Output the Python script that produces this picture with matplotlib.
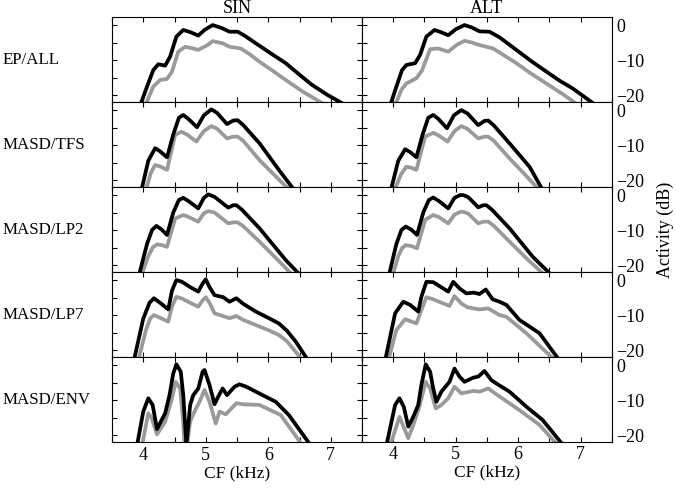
import matplotlib
matplotlib.use("Agg")
import matplotlib.pyplot as plt
from matplotlib.ticker import MultipleLocator

plt.rcParams['font.family'] = ['Liberation Serif', 'DejaVu Serif']
plt.rcParams['font.size'] = 13

columns = ["SIN", "ALT"]
rows = ["EP/ALL", "MASD/TFS", "MASD/LP2", "MASD/LP7", "MASD/ENV"]

# black = upper curve, gray = lower curve; x in kHz, y in dB
# EP/ALL
sin_all_bx = [3.95, 4.06, 4.16, 4.24, 4.35, 4.43, 4.53, 4.64, 4.75, 4.88, 4.98, 5.11, 5.25, 5.38, 5.51, 5.62, 5.80, 6.05, 6.28, 6.50, 6.70, 6.95, 7.20]
sin_all_by = [-23, -17.6, -12.9, -11.2, -11.6, -9.0, -3.3, -1.4, -2.0, -3.0, -1.4, 0.0, -0.8, -1.9, -1.9, -3.0, -5.2, -8.2, -10.9, -14.2, -17.1, -20.0, -22.5]
sin_all_gx = [4.03, 4.16, 4.27, 4.38, 4.46, 4.56, 4.67, 4.80, 4.88, 5.03, 5.11, 5.27, 5.38, 5.56, 5.70, 5.86, 6.05, 6.28, 6.55, 6.88]
sin_all_gy = [-23, -17.6, -15.7, -15.4, -13.3, -7.6, -6.2, -6.7, -7.1, -5.7, -4.6, -5.2, -6.2, -6.7, -8.3, -10.5, -12.8, -15.7, -19.0, -22.5]
alt_all_bx = [3.95, 4.05, 4.14, 4.21, 4.35, 4.43, 4.53, 4.66, 4.76, 4.88, 5.00, 5.14, 5.26, 5.38, 5.54, 5.70, 5.97, 6.20, 6.45, 6.67, 6.87, 7.21]
alt_all_by = [-23, -17.6, -12.9, -11.4, -10.9, -8.5, -3.3, -1.4, -2.0, -2.9, -1.2, 0.0, -0.7, -1.8, -1.9, -3.5, -7.1, -10.2, -13.3, -16.0, -18.1, -22.5]
alt_all_gx = [4.03, 4.13, 4.21, 4.37, 4.46, 4.59, 4.72, 4.88, 5.02, 5.14, 5.26, 5.38, 5.60, 5.75, 5.97, 6.20, 6.45, 6.70, 6.93]
alt_all_gy = [-23, -18.5, -16.7, -15.2, -13.0, -6.9, -6.7, -7.6, -5.6, -4.5, -5.0, -5.7, -6.7, -8.4, -10.9, -13.8, -16.7, -19.6, -22.5]

# MASD/TFS
sin_tfs_bx = [3.97, 4.08, 4.19, 4.27, 4.38, 4.48, 4.57, 4.64, 4.72, 4.86, 4.97, 5.09, 5.18, 5.34, 5.44, 5.51, 5.60, 5.86, 6.17, 6.40]
sin_tfs_by = [-23, -14.5, -10.9, -11.8, -13.5, -7.0, -2.2, -1.4, -2.5, -4.9, -1.5, 0.2, -0.8, -4.0, -3.0, -2.9, -4.3, -9.5, -17.1, -22.5]
sin_tfs_gx = [4.04, 4.12, 4.19, 4.28, 4.38, 4.51, 4.61, 4.70, 4.85, 4.97, 5.09, 5.18, 5.34, 5.44, 5.51, 5.60, 5.86, 6.10, 6.32]
sin_tfs_gy = [-23, -18.0, -15.7, -16.2, -17.1, -7.1, -6.2, -7.0, -9.0, -6.0, -4.6, -5.3, -8.1, -7.6, -7.6, -8.8, -14.3, -18.6, -22.5]
alt_tfs_bx = [3.96, 4.08, 4.19, 4.27, 4.37, 4.47, 4.56, 4.64, 4.72, 4.86, 4.97, 5.09, 5.19, 5.36, 5.46, 5.52, 5.61, 5.86, 6.18, 6.38]
alt_tfs_by = [-23, -14.5, -11.2, -12.0, -13.5, -7.0, -2.2, -1.4, -2.5, -5.2, -1.5, 0.0, -1.0, -4.3, -3.1, -3.0, -4.4, -9.5, -16.2, -22.5]
alt_tfs_gx = [4.02, 4.12, 4.21, 4.29, 4.37, 4.51, 4.64, 4.73, 4.87, 4.98, 5.09, 5.19, 5.36, 5.46, 5.52, 5.61, 5.86, 6.10, 6.32]
alt_tfs_gy = [-23, -18.5, -16.2, -16.5, -17.1, -7.6, -6.5, -7.3, -9.0, -6.0, -4.6, -5.4, -8.1, -7.6, -7.6, -8.8, -13.8, -18.3, -22.5]

# MASD/LP2
sin_lp2_bx = [3.93, 4.06, 4.14, 4.21, 4.29, 4.38, 4.48, 4.57, 4.64, 4.73, 4.88, 4.97, 5.04, 5.14, 5.36, 5.44, 5.49, 5.58, 5.86, 6.28, 6.49]
sin_lp2_by = [-23, -14.0, -10.0, -8.8, -9.8, -11.4, -5.0, -1.4, -0.8, -1.8, -3.8, -0.8, 0.2, -0.5, -3.6, -2.9, -2.9, -4.2, -9.5, -18.6, -22.5]
sin_lp2_gx = [3.97, 4.08, 4.15, 4.22, 4.30, 4.38, 4.51, 4.64, 4.73, 4.88, 4.97, 5.04, 5.14, 5.36, 5.44, 5.51, 5.60, 5.86, 6.15, 6.37]
sin_lp2_gy = [-23, -17.5, -15.0, -14.1, -14.3, -14.8, -6.7, -5.7, -6.3, -7.6, -5.2, -4.6, -5.0, -8.1, -7.8, -7.8, -8.9, -13.3, -18.5, -22.5]
alt_lp2_bx = [3.93, 4.05, 4.13, 4.20, 4.29, 4.38, 4.48, 4.57, 4.64, 4.73, 4.88, 4.98, 5.07, 5.12, 5.20, 5.36, 5.44, 5.49, 5.58, 5.86, 6.23, 6.51]
alt_lp2_by = [-23, -14.0, -10.0, -9.0, -9.9, -11.4, -5.0, -1.4, -0.7, -1.7, -3.8, -0.8, 0.0, 0.0, -0.6, -3.5, -2.9, -2.9, -4.2, -9.5, -17.6, -22.5]
alt_lp2_gx = [3.99, 4.08, 4.14, 4.20, 4.29, 4.38, 4.51, 4.64, 4.73, 4.88, 4.98, 5.07, 5.12, 5.20, 5.36, 5.44, 5.52, 5.61, 5.86, 6.15, 6.40]
alt_lp2_gy = [-23, -17.5, -15.2, -14.3, -14.6, -15.2, -7.1, -5.7, -6.3, -8.1, -5.6, -4.8, -4.8, -5.3, -8.1, -7.6, -7.6, -8.8, -13.3, -18.4, -22.5]

# MASD/LP7
sin_lp7_bx = [3.85, 4.00, 4.10, 4.17, 4.27, 4.40, 4.46, 4.53, 4.62, 4.75, 4.88, 4.95, 5.00, 5.06, 5.14, 5.28, 5.38, 5.49, 5.60, 5.80, 6.00, 6.17, 6.30, 6.44, 6.62]
sin_lp7_by = [-23, -11.0, -6.5, -5.2, -6.5, -8.4, -3.0, 0.0, -0.5, -2.0, -3.3, -1.0, 0.2, -2.0, -4.3, -4.9, -6.2, -5.2, -6.8, -9.0, -10.8, -12.4, -14.5, -17.6, -22.5]
sin_lp7_gx = [3.92, 4.04, 4.11, 4.17, 4.27, 4.40, 4.46, 4.53, 4.62, 4.75, 4.88, 4.95, 5.00, 5.06, 5.14, 5.38, 5.49, 5.60, 5.86, 6.00, 6.17, 6.30, 6.53]
sin_lp7_gy = [-23, -14.5, -11.0, -10.0, -10.8, -11.9, -7.5, -4.8, -5.3, -6.5, -7.6, -5.8, -4.9, -6.5, -9.5, -10.9, -10.3, -11.4, -13.3, -14.3, -15.7, -17.5, -22.5]
alt_lp7_bx = [3.87, 4.03, 4.16, 4.27, 4.40, 4.45, 4.53, 4.64, 4.88, 4.96, 5.06, 5.17, 5.29, 5.38, 5.48, 5.59, 5.70, 5.81, 6.02, 6.34, 6.64]
alt_lp7_by = [-23, -9.5, -6.2, -7.1, -9.0, -4.8, -0.5, -0.6, -3.3, -0.5, -2.4, -3.8, -3.6, -4.0, -2.7, -5.5, -6.2, -7.1, -11.4, -15.2, -22.5]
alt_lp7_gx = [3.92, 4.05, 4.19, 4.37, 4.45, 4.53, 4.64, 4.90, 4.98, 5.09, 5.19, 5.38, 5.52, 5.70, 5.81, 6.13, 6.56]
alt_lp7_gy = [-23, -14.3, -11.2, -12.4, -8.6, -4.9, -5.5, -7.4, -4.6, -6.7, -7.8, -8.4, -8.1, -10.0, -10.5, -15.2, -22.5]

# MASD/ENV
sin_env_bx = [3.90, 4.00, 4.08, 4.15, 4.22, 4.35, 4.42, 4.48, 4.53, 4.60, 4.64, 4.68, 4.69, 4.75, 4.80, 4.88, 4.95, 4.98, 5.06, 5.14, 5.20, 5.27, 5.34, 5.46, 5.54, 5.65, 5.80, 6.12, 6.33, 6.66]
sin_env_by = [-23, -13.3, -9.5, -11.4, -18.3, -13.8, -8.6, -2.4, 0.2, -1.9, -8.6, -20.0, -23, -11.4, -8.6, -6.7, -1.9, -1.4, -5.7, -11.2, -9.0, -6.7, -8.6, -6.2, -5.5, -6.2, -7.6, -10.5, -14.3, -22.5]
sin_env_gx = [3.98, 4.08, 4.13, 4.22, 4.35, 4.46, 4.52, 4.59, 4.64, 4.66, 4.70, 4.75, 4.83, 4.90, 4.98, 5.06, 5.16, 5.22, 5.32, 5.49, 5.59, 5.86, 6.20, 6.53]
sin_env_gy = [-23, -13.8, -15.0, -19.8, -16.2, -9.5, -4.8, -6.7, -16.2, -23, -23, -16.2, -12.9, -10.5, -7.1, -10.5, -16.7, -13.3, -14.1, -10.9, -11.2, -11.4, -14.3, -22.5]
alt_env_bx = [3.89, 4.03, 4.10, 4.17, 4.24, 4.32, 4.40, 4.45, 4.52, 4.59, 4.64, 4.69, 4.77, 4.90, 4.98, 5.06, 5.14, 5.28, 5.36, 5.46, 5.57, 5.67, 5.86, 6.13, 6.39, 6.70]
alt_env_by = [-23, -11.4, -9.5, -12.0, -17.6, -14.8, -11.4, -5.7, 0.2, -1.9, -6.7, -10.5, -7.6, -4.8, -1.0, -3.3, -4.8, -3.6, -3.3, -1.7, -4.3, -5.5, -7.6, -11.9, -15.7, -22.5]
alt_env_gx = [3.95, 4.10, 4.24, 4.33, 4.41, 4.52, 4.59, 4.68, 4.77, 4.88, 4.98, 5.09, 5.28, 5.38, 5.52, 5.67, 6.02, 6.34, 6.61]
alt_env_gy = [-23, -14.8, -20.9, -16.7, -12.4, -4.8, -6.7, -12.4, -11.4, -9.5, -6.2, -8.1, -7.4, -7.6, -6.7, -8.6, -12.9, -17.1, -22.5]

curves = [
    [(sin_all_bx, sin_all_by, sin_all_gx, sin_all_gy), (alt_all_bx, alt_all_by, alt_all_gx, alt_all_gy)],
    [(sin_tfs_bx, sin_tfs_by, sin_tfs_gx, sin_tfs_gy), (alt_tfs_bx, alt_tfs_by, alt_tfs_gx, alt_tfs_gy)],
    [(sin_lp2_bx, sin_lp2_by, sin_lp2_gx, sin_lp2_gy), (alt_lp2_bx, alt_lp2_by, alt_lp2_gx, alt_lp2_gy)],
    [(sin_lp7_bx, sin_lp7_by, sin_lp7_gx, sin_lp7_gy), (alt_lp7_bx, alt_lp7_by, alt_lp7_gx, alt_lp7_gy)],
    [(sin_env_bx, sin_env_by, sin_env_gx, sin_env_gy), (alt_env_bx, alt_env_by, alt_env_gx, alt_env_gy)],
]

xticks = [4, 5, 6, 7]
yticks = [0, -10, -20]

fig, axes = plt.subplots(5, 2, figsize=(6.76, 4.92), dpi=100, sharex=True, sharey=True)
plt.subplots_adjust(left=0.1657, right=0.9053, top=0.9654, bottom=0.1016, wspace=0, hspace=0)

for i in range(5):
    for j in range(2):
        ax = axes[i][j]
        bx, by, gx, gy = curves[i][j]
        ax.plot(gx, gy, color='#9a9a9a', lw=2.7, solid_joinstyle='round')
        ax.plot(bx, by, color='black', lw=2.7, solid_joinstyle='round')
        ax.set_xlim(3.5, 7.5)
        ax.set_ylim(-22, 2.3)
        ax.set_xticks(xticks)
        ax.xaxis.set_minor_locator(MultipleLocator(0.5))
        ax.set_yticks(yticks)
        ax.yaxis.set_minor_locator(MultipleLocator(5))
        ax.tick_params(which='both', direction='in', length=3.5, width=0.8,
                       top=True, bottom=True, labelsize=13)
        if j == 0:
            ax.tick_params(which='both', left=True, right=True, labelleft=False)
            ax.text(-0.436, 0.5, rows[i], transform=ax.transAxes, ha='left', va='center', fontsize=12.2)
        else:
            ax.tick_params(which='both', left=True, right=False, labelleft=False, labelright=True, pad=3)
        if i == 0:
            ax.set_title(columns[j], fontsize=13, pad=1.5)
        if i == 4:
            ax.set_xlabel("CF (kHz)", fontsize=12.5, labelpad=1)

fig.text(0.984, 0.5335, "Activity (dB)", rotation=90, ha='center', va='center', fontsize=13)

plt.savefig("out.png", dpi=100)
